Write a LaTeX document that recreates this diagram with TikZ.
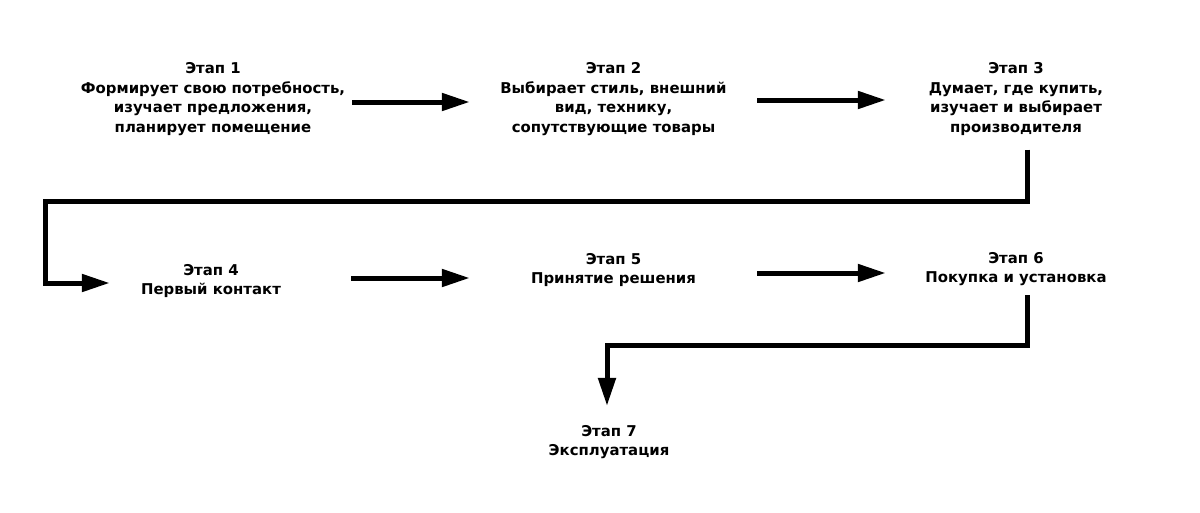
\documentclass[tikz,border=0pt]{standalone}
\usepackage{fontspec}
\setmainfont{DejaVu Sans}
\usetikzlibrary{arrows.meta}
\begin{document}
\begin{tikzpicture}[x=1pt,y=-1pt,
  stage/.style={font=\bfseries\fontsize{14.9}{19.5}\selectfont, align=center, inner sep=0pt},
  conn/.style={line width=5pt},
  arr/.style={conn,-{Triangle[length=28pt,width=17pt]}}]
\useasboundingbox[fill=white] (0,0) rectangle (1200,512);
\node[stage, minimum width=278pt] (n1) at (213,99) {Этап 1\\Формирует свою потребность,\\изучает предложения,\\планирует помещение};
\node[stage, minimum width=287pt] (n2) at (613.5,99) {Этап 2\\Выбирает стиль, внешний\\вид, технику,\\сопутствующие товары};
\node[stage, minimum width=260pt] (n3) at (1016,99) {Этап 3\\Думает, где купить,\\изучает и выбирает\\производителя};
\node[stage, minimum width=280pt] (n4) at (211,281) {Этап 4\\Первый контакт};
\node[stage, minimum width=287pt] (n5) at (613.5,270) {Этап 5\\Принятие решения};
\node[stage, minimum width=260pt] (n6) at (1016,269) {Этап 6\\Покупка и установка};
\node[stage] (n7) at (609,442) {Этап 7\\Эксплуатация};
\coordinate (b1) at (45,201);
\coordinate (b2) at (607,345);
\draw[arr] ([yshift=-3pt]n1.east) -- ([yshift=-3pt]n1.east -| n2.west);
\draw[arr] ([yshift=-1pt]n2.east) -- ([yshift=-1pt]n2.east -| n3.west);
\draw[arr] ([xshift=11pt,yshift=-14pt]n3.south) |- (b1) |- ([xshift=39pt,yshift=-2pt]n4.west);
\draw[arr] ([yshift=3pt]n4.east) -- ([yshift=3pt]n4.east -| n5.west);
\draw[arr] ([yshift=-3pt]n5.east) -- ([yshift=-3pt]n5.east -| n6.west);
\draw[arr] ([xshift=11pt,yshift=-9pt]n6.south) |- (b2) -- ([yshift=19pt]b2 |- n7.north);
\end{tikzpicture}
\end{document}
